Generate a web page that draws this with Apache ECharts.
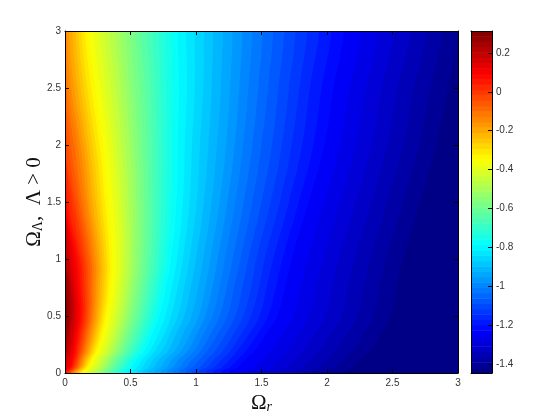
<!DOCTYPE html>
<html>
<head>
<meta charset="utf-8">
<style>html,body{margin:0;padding:0;background:#fff}#c{width:560px;height:420px}</style>
<script src="https://cdn.jsdelivr.net/npm/echarts@6/dist/echarts.min.js"></script>
</head>
<body>
<div id="c"></div>
<script>
const barTicks = [0.2, 0, -0.2, -0.4, -0.6, -0.8, -1, -1.2, -1.4];
const valueMin = -1.446;
const valueMax = 0.313;
const colorSteps = 64;

// Contour levels (lowest to highest) of the field.
const levels = [-1.4175,-1.39,-1.3625,-1.335,-1.3075,-1.28,-1.2525,-1.225,-1.1975,-1.17,-1.1425,-1.115,-1.0875,-1.06,-1.0325,-1.005,-0.9775,-0.95,-0.9225,-0.895,-0.8675,-0.84,-0.8125,-0.785,-0.7575,-0.73,-0.7025,-0.675,-0.6475,-0.62,-0.5925,-0.565,-0.5375,-0.51,-0.4825,-0.455,-0.4275,-0.4,-0.3725,-0.345,-0.3175,-0.29,-0.2625,-0.235,-0.2075,-0.18,-0.1525,-0.125,-0.0975,-0.07,-0.0425,-0.015,0.0125,0.04,0.0675,0.095,0.1225,0.15,0.1775,0.205,0.2325,0.26,0.2875];

// Omega_Lambda rows at which each contour's Omega_r position was read.
const rows = [0, 0.05, 0.12, 0.2, 0.35, 0.5, 0.75, 1, 1.5, 2, 2.5, 3];

// Omega_r position of every level, one list per row.
const row000 = [2.13,2.00,1.875,1.75,1.625,1.50,1.375,1.25,1.19,1.13,1.075,1.02,.97,.92,.87,.82,.775,.73,.68,.63,.59,.55,.51,.47,.445,.42,.399,.378,.356,.335,.315,.295,.277,.26,.241,.223,.203,.183,.161,.14,.13,.12,.111,.102,.093,.084,.075,.067,.059,.052,.043,.035,.026,.017,.008,0,0,0,0,0,0,0,0];
const row005 = [2.19,2.06,1.935,1.81,1.69,1.57,1.445,1.32,1.26,1.20,1.14,1.085,1.03,.975,.925,.875,.825,.78,.73,.68,.635,.59,.55,.51,.485,.46,.439,.418,.396,.375,.355,.335,.317,.30,.281,.263,.243,.223,.201,.18,.17,.16,.151,.142,.133,.124,.115,.107,.099,.092,.083,.075,.066,.057,.048,.04,.025,.01,.004,0,0,0,0];
const row012 = [2.25,2.12,1.995,1.87,1.75,1.63,1.505,1.38,1.32,1.26,1.20,1.14,1.085,1.03,.975,.92,.87,.82,.77,.72,.675,.63,.59,.55,.525,.50,.477,.455,.432,.41,.39,.37,.351,.332,.313,.295,.275,.254,.232,.21,.199,.188,.178,.168,.158,.148,.139,.13,.121,.112,.103,.094,.085,.075,.065,.055,.04,.025,.012,0,0,0,0];
const row020 = [2.33,2.20,2.075,1.95,1.825,1.70,1.575,1.45,1.385,1.32,1.265,1.21,1.15,1.09,1.04,.99,.94,.89,.84,.79,.74,.69,.65,.61,.583,.556,.533,.51,.486,.462,.44,.419,.40,.38,.36,.34,.319,.297,.274,.25,.237,.225,.212,.20,.189,.178,.167,.156,.146,.137,.126,.115,.104,.093,.082,.07,.058,.045,.032,.02,.008,0,0];
const row035 = [2.41,2.28,2.155,2.03,1.91,1.79,1.665,1.54,1.475,1.41,1.35,1.29,1.23,1.17,1.115,1.06,1.01,.96,.905,.85,.805,.76,.715,.67,.641,.613,.588,.564,.539,.514,.491,.469,.448,.427,.406,.385,.363,.34,.315,.29,.276,.262,.249,.236,.223,.21,.198,.186,.175,.164,.152,.14,.128,.116,.103,.09,.077,.065,.052,.04,.027,.015,0];
const row050 = [2.48,2.35,2.23,2.11,1.985,1.86,1.74,1.62,1.55,1.485,1.42,1.36,1.30,1.24,1.18,1.125,1.07,1.02,.965,.91,.86,.81,.765,.72,.69,.66,.634,.608,.582,.556,.532,.508,.486,.464,.442,.42,.396,.372,.346,.32,.305,.29,.276,.263,.25,.236,.223,.21,.199,.188,.175,.163,.15,.137,.124,.11,.095,.08,.067,.055,.042,.03,.015];
const row075 = [2.53,2.40,2.28,2.16,2.04,1.92,1.80,1.68,1.61,1.54,1.48,1.42,1.355,1.29,1.235,1.18,1.125,1.07,1.015,.96,.91,.86,.815,.77,.738,.707,.679,.652,.625,.598,.572,.547,.523,.50,.478,.455,.43,.405,.378,.35,.332,.315,.299,.283,.266,.25,.235,.22,.206,.193,.178,.163,.148,.133,.117,.10,.085,.07,.057,.045,.032,.02,.006];
const row100 = [2.58,2.45,2.33,2.21,2.09,1.97,1.85,1.73,1.66,1.59,1.525,1.46,1.40,1.34,1.28,1.22,1.165,1.11,1.055,1.00,.95,.90,.855,.81,.776,.743,.713,.684,.655,.626,.598,.57,.545,.52,.495,.47,.445,.42,.391,.36,.34,.32,.302,.285,.267,.25,.232,.215,.20,.185,.167,.15,.132,.115,.097,.08,.062,.045,.028,.012,.003,0,0];
const row150 = [2.71,2.58,2.46,2.34,2.22,2.10,1.98,1.86,1.785,1.71,1.64,1.57,1.50,1.43,1.365,1.30,1.24,1.18,1.12,1.06,1.005,.95,.90,.85,.81,.77,.735,.70,.668,.637,.605,.574,.545,.517,.488,.46,.43,.40,.366,.33,.305,.28,.257,.235,.212,.19,.17,.15,.13,.11,.09,.07,.048,.025,.01,0,0,0,0,0,0,0,0];
const row200 = [2.83,2.70,2.58,2.46,2.34,2.22,2.10,1.98,1.895,1.81,1.73,1.655,1.58,1.50,1.43,1.36,1.295,1.23,1.16,1.095,1.03,.97,.915,.86,.817,.775,.737,.70,.663,.626,.592,.558,.527,.495,.463,.43,.397,.364,.328,.29,.262,.235,.21,.185,.162,.14,.117,.095,.07,.045,.022,0,0,0,0,0,0,0,0,0,0,0,0];
const row250 = [2.92,2.79,2.665,2.54,2.42,2.30,2.175,2.05,1.96,1.87,1.79,1.71,1.63,1.55,1.475,1.40,1.33,1.26,1.19,1.12,1.055,.99,.93,.87,.82,.77,.73,.69,.65,.61,.57,.53,.495,.46,.425,.39,.35,.31,.27,.23,.20,.17,.145,.12,.095,.07,.047,.025,.01,0,0,0,0,0,0,0,0,0,0,0,0,0,0];
const row300 = [3.00,2.88,2.76,2.64,2.515,2.39,2.26,2.13,2.035,1.94,1.85,1.76,1.675,1.59,1.51,1.43,1.355,1.28,1.205,1.13,1.06,.99,.925,.86,.81,.76,.715,.67,.625,.58,.54,.50,.46,.42,.38,.34,.30,.26,.22,.18,.152,.125,.102,.08,.055,.03,.012,0,0,0,0,0,0,0,0,0,0,0,0,0,0,0,0];
const contourTable = [row000,row005,row012,row020,row035,row050,row075,row100,row150,row200,row250,row300];

function jet(t) {
  const f = (a) => Math.max(0, Math.min(1, a));
  const r = f(Math.min(4 * t - 1.5, -4 * t + 4.5));
  const g = f(Math.min(4 * t - 0.5, -4 * t + 3.5));
  const b = f(Math.min(4 * t + 0.5, -4 * t + 2.5));
  return 'rgb(' + Math.round(r * 255) + ',' + Math.round(g * 255) + ',' + Math.round(b * 255) + ')';
}
const stepSize = (valueMax - valueMin) / colorSteps;
function colorOf(v) {
  const k = Math.max(0, Math.min(colorSteps - 1, Math.floor((v - valueMin) / stepSize)));
  return jet((k + 0.5) / colorSteps);
}

// Index -1 is the base band below the lowest level (whole plot).
const bandData = [[valueMin, -1]].concat(levels.map((v, i) => [v, i]));
const bandStep = levels[1] - levels[0];

function renderBand(params, api) {
  const idx = api.value(1);
  const level = api.value(0);
  const xs = contourTable.map((row) => (idx < 0 ? 3.3 : row[idx]));
  const pts = [api.coord([-1, -0.3]), api.coord([xs[0], -0.3])];
  rows.forEach((y, r) => pts.push(api.coord([xs[r], y])));
  pts.push(api.coord([xs[xs.length - 1], 3.3]), api.coord([-1, 3.3]));
  return {
    type: 'polygon',
    shape: { points: pts, smooth: 0.5 },
    style: { fill: colorOf(level + bandStep / 2), stroke: null }
  };
}

const barData = [];
for (let k = 0; k < colorSteps; k++) {
  barData.push([valueMin + k * stepSize, valueMin + (k + 1) * stepSize]);
}
function renderBar(params, api) {
  const lo = api.coord([0, api.value(0)]);
  const hi = api.coord([1, api.value(1)]);
  return {
    type: 'rect',
    shape: { x: lo[0], y: hi[1], width: hi[0] - lo[0], height: lo[1] - hi[1] + 0.5 },
    style: { fill: jet((params.dataIndex + 0.5) / colorSteps), stroke: null }
  };
}

const frameLine = { show: true, onZero: false, lineStyle: { color: '#000', width: 1 } };
const labelStyle = { color: '#333', fontFamily: 'Liberation Sans', fontSize: 10 };
const tick = { show: true, inside: true, length: 4, lineStyle: { color: '#000', width: 1 } };
const serif = 'Liberation Serif';

const option = {
  animation: false,
  backgroundColor: '#fff',
  grid: [
    { left: 65, top: 31, width: 393, height: 342 },
    { left: 471, top: 31, width: 21, height: 342 }
  ],
  xAxis: [
    { gridIndex: 0, type: 'value', min: 0, max: 3, interval: 0.5, position: 'bottom', z: 10,
      axisLine: frameLine, axisTick: tick, splitLine: { show: false },
      axisLabel: Object.assign({ margin: 5 }, labelStyle),
      name: '{a|Ω}{s|r}', nameLocation: 'middle', nameGap: 16,
      nameTextStyle: { rich: {
        a: { fontFamily: serif, fontSize: 21, color: '#111' },
        s: { fontFamily: serif, fontStyle: 'italic', fontSize: 14, color: '#111', padding: [8, 0, 0, 0] }
      } } },
    { gridIndex: 0, type: 'value', min: 0, max: 3, interval: 0.5, position: 'top', z: 10,
      axisLine: frameLine, axisTick: tick, axisLabel: { show: false }, splitLine: { show: false } },
    { gridIndex: 1, type: 'value', min: 0, max: 1, position: 'bottom', z: 10,
      axisLine: frameLine, axisTick: { show: false }, axisLabel: { show: false }, splitLine: { show: false } },
    { gridIndex: 1, type: 'value', min: 0, max: 1, position: 'top', z: 10,
      axisLine: frameLine, axisTick: { show: false }, axisLabel: { show: false }, splitLine: { show: false } }
  ],
  yAxis: [
    { gridIndex: 0, type: 'value', min: 0, max: 3, interval: 0.5, position: 'left', z: 10,
      axisLine: frameLine, axisTick: tick, splitLine: { show: false },
      axisLabel: Object.assign({ margin: 4 }, labelStyle),
      name: '{a|Ω}{s|Λ}{a|,  Λ > 0}', nameLocation: 'middle', nameGap: 20, nameMoveOverlap: false,
      nameTextStyle: { rich: {
        a: { fontFamily: serif, fontSize: 21, color: '#111' },
        s: { fontFamily: serif, fontSize: 14, color: '#111', padding: [8, 0, 0, 0] }
      } } },
    { gridIndex: 0, type: 'value', min: 0, max: 3, interval: 0.5, position: 'right', z: 10,
      axisLine: frameLine, axisTick: tick, axisLabel: { show: false }, splitLine: { show: false } },
    { gridIndex: 1, type: 'value', min: valueMin, max: valueMax, position: 'left', z: 10,
      axisLine: frameLine, axisTick: { show: false }, axisLabel: { show: false }, splitLine: { show: false } },
    { gridIndex: 1, type: 'value', min: valueMin, max: valueMax, position: 'right', z: 10,
      axisLine: frameLine, splitLine: { show: false },
      axisTick: Object.assign({}, tick, { customValues: barTicks }),
      axisLabel: Object.assign({ margin: 4, customValues: barTicks, showMinLabel: true, showMaxLabel: true }, labelStyle) }
  ],
  series: [
    { type: 'custom', xAxisIndex: 0, yAxisIndex: 0, data: bandData, renderItem: renderBand,
      encode: { x: -1, y: -1 }, silent: true, clip: true },
    { type: 'custom', xAxisIndex: 2, yAxisIndex: 2, data: barData, renderItem: renderBar,
      encode: { y: [0, 1] }, silent: true, clip: true }
  ]
};
echarts.init(document.getElementById('c'), null, { renderer: 'canvas' }).setOption(option);
</script>
</body>
</html>
